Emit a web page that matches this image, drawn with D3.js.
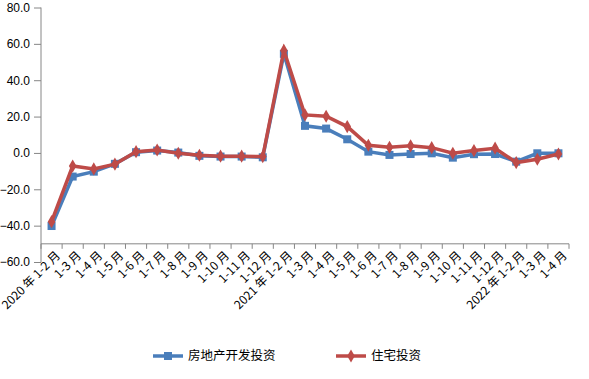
<!DOCTYPE html>
<html>
<head>
<meta charset="utf-8">
<script src="https://cdn.jsdelivr.net/npm/d3@7"></script>
<style>
  body { margin: 0; background: #fff; }
  svg { display: block; }
</style>
</head>
<body>
<div id="chart"></div>
<script>
// categories (x axis)
var months = [
  "2020 年 1-2 月", "1-3 月", "1-4 月", "1-5 月", "1-6 月", "1-7 月", "1-8 月",
  "1-9 月", "1-10 月", "1-11 月", "1-12 月",
  "2021 年 1-2 月", "1-3 月", "1-4 月", "1-5 月", "1-6 月", "1-7 月", "1-8 月",
  "1-9 月", "1-10 月", "1-11 月", "1-12 月",
  "2022 年 1-2 月", "1-3 月", "1-4 月"
];
// series values
var devInvest = [-40.2, -13.0, -10.3, -6.0, 0.4, 1.3, 0.2, -1.6, -2.0, -2.0, -2.4,
  54.5, 14.9, 13.4, 7.5, 0.7, -1.1, -0.6, -0.2, -2.6, -0.7, -0.6,
  -4.8, -0.2, -0.2];
var houseInvest = [-37.8, -7.2, -8.8, -6.2, 0.7, 1.6, -0.2, -1.3, -1.8, -1.8, -2.0,
  56.4, 20.9, 20.2, 14.5, 4.2, 3.1, 3.9, 2.9, -0.2, 1.3, 2.6,
  -5.3, -3.5, -0.6];
var yTicks = [-60, -40, -20, 0, 20, 40, 60, 80];
var seriesNames = ["房地产开发投资", "住宅投资"];

var width = 589, height = 379;
var svg = d3.select("#chart").append("svg")
  .attr("width", width)
  .attr("height", height);

var x = d3.scaleBand().domain(d3.range(months.length)).range([41, 569]);
var y = d3.scaleLinear().domain([-60, 80]).range([262, 7.5]);

// y axis
var yAxis = svg.append("g")
  .attr("transform", "translate(41,0)")
  .call(d3.axisLeft(y).tickValues(yTicks).tickSize(7).tickPadding(4)
    .tickFormat(d3.format(".1f")));
yAxis.selectAll("path, line").attr("stroke", "#868686");
yAxis.select(".domain").attr("d", "M0," + y(80) + "V" + y(-60));
yAxis.selectAll("text")
  .style("font-family", "'Liberation Sans', Arial, sans-serif")
  .style("font-size", "12px")
  .attr("fill", "#000");

// category axis crosses at -50
var axisY = y(-50);
var xg = svg.append("g");
xg.append("line")
  .attr("x1", 41).attr("x2", 569)
  .attr("y1", axisY).attr("y2", axisY)
  .attr("stroke", "#868686");
xg.selectAll("line.tick")
  .data(d3.range(months.length + 1))
  .enter().append("line")
  .attr("class", "tick")
  .attr("x1", function (d) { return 41 + d * x.step(); })
  .attr("x2", function (d) { return 41 + d * x.step(); })
  .attr("y1", axisY).attr("y2", axisY + 5)
  .attr("stroke", "#868686");
xg.selectAll("text")
  .data(months)
  .enter().append("text")
  .attr("transform", function (d, i) {
    var cx = x(i) + x.bandwidth() / 2 + 3;
    return "translate(" + cx + "," + (axisY + 6) + ") rotate(-45)";
  })
  .attr("text-anchor", "end")
  .attr("dy", "0.75em")
  .style("font-family", "'Noto Sans CJK SC', sans-serif")
  .style("font-size", "12px")
  .attr("fill", "#000")
  .text(function (d) { return d; });

var line = d3.line()
  .x(function (d, i) { return x(i) + x.bandwidth() / 2; })
  .y(function (d) { return y(d); });

var colors = ["#4a7ebb", "#be4b48"];

// blue series with squares
svg.append("path")
  .datum(devInvest)
  .attr("d", line)
  .attr("fill", "none")
  .attr("stroke", colors[0])
  .attr("stroke-width", 3.5);
svg.selectAll("rect.dev")
  .data(devInvest)
  .enter().append("rect")
  .attr("class", "dev")
  .attr("x", function (d, i) { return x(i) + x.bandwidth() / 2 - 4; })
  .attr("y", function (d) { return y(d) - 4; })
  .attr("width", 8).attr("height", 8)
  .attr("fill", colors[0]);

// red series with diamonds
svg.append("path")
  .datum(houseInvest)
  .attr("d", line)
  .attr("fill", "none")
  .attr("stroke", colors[1])
  .attr("stroke-width", 3.5);
svg.selectAll("path.house")
  .data(houseInvest)
  .enter().append("path")
  .attr("class", "house")
  .attr("d", d3.symbol().type(d3.symbolDiamond).size(50))
  .attr("transform", function (d, i) {
    return "translate(" + (x(i) + x.bandwidth() / 2) + "," + y(d) + ")";
  })
  .attr("fill", colors[1]);

// legend
var legendX = [153, 336];
var legend = svg.selectAll("g.legend")
  .data(seriesNames)
  .enter().append("g")
  .attr("class", "legend")
  .attr("transform", function (d, i) { return "translate(" + legendX[i] + ",356)"; });
legend.append("line")
  .attr("x1", 0).attr("x2", 30)
  .attr("stroke", function (d, i) { return colors[i]; })
  .attr("stroke-width", 3.5);
legend.each(function (d, i) {
  var g = d3.select(this);
  if (i === 0) {
    g.append("rect").attr("x", 11).attr("y", -4).attr("width", 8).attr("height", 8)
      .attr("fill", colors[0]);
  } else {
    g.append("path").attr("d", d3.symbol().type(d3.symbolDiamond).size(50))
      .attr("transform", "translate(15,0)").attr("fill", colors[1]);
  }
});
legend.append("text")
  .attr("x", 35)
  .attr("dy", "0.35em")
  .style("font-family", "'Noto Sans CJK SC', sans-serif")
  .style("font-size", "12.5px")
  .attr("fill", "#000")
  .text(function (d) { return d; });
</script>
</body>
</html>
